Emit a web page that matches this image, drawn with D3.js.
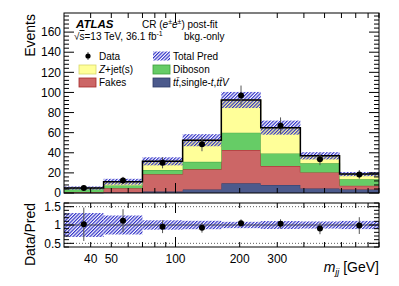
<!DOCTYPE html>
<html><head><meta charset="utf-8">
<script src="https://cdn.jsdelivr.net/npm/d3@7"></script>
<style>
body{margin:0;background:#fff}
text{font-family:"Liberation Sans",Arial,Helvetica,sans-serif;fill:#000}
</style>
</head><body><div id="chart"></div>
<script>
// histogram bin edges in m_jj [GeV]
const edges = [30, 46, 70, 108, 164, 251, 385, 588, 900];

// stacked backgrounds, bottom to top
const ttbar   = [0.2, 0.5, 1.5, 3.5, 9.6, 8.0, 4.5, 3.5];
const fakes   = [0.6, 4.2, 17.1, 20.0, 33.1, 18.8, 16.0, 3.7];
const diboson = [2.7, 2.8, 4.3, 7.5, 17.3, 12.6, 9.0, 6.4];
const zjets   = [1.4, 3.7, 8.6, 21.5, 32.5, 25.6, 7.5, 5.2];
const totUnc  = [1.6, 2.9, 4.0, 6.0, 8.0, 7.0, 3.6, 2.1];

const data = [5, 12.5, 30, 48.5, 97, 67, 33.5, 18.5];

const yTicks = [0, 20, 40, 60, 80, 100, 120, 140, 160];
const xTickLabels = [40, 50, 100, 200, 300];
const rTicks = [0.5, 1, 1.5];

const COLORS = {
    zjets: "#ffff99", zjetsEdge: "#d8d86a",
    dib: "#66cc66", dibEdge: "#3c9e3c",
    fakes: "#cc6666", fakesEdge: "#a52a2a",
    tt: "#4c5a8c", ttEdge: "#2f3a66",
    hatch: "#3030c8"
};

const W = 399, H = 286;
const L = 64, R = 379;
const mainTop = 13, mainBot = 193;
const ratTop = 203, ratBot = 247;

const svg = d3.select("#chart").append("svg")
    .attr("width", W).attr("height", H);

const defs = svg.append("defs");
const pat = defs.append("pattern")
    .attr("id", "hatch").attr("patternUnits", "userSpaceOnUse")
    .attr("width", 2.4).attr("height", 2.4)
    .attr("patternTransform", "rotate(45)");
pat.append("line").attr("x1", 0.6).attr("y1", 0).attr("x2", 0.6).attr("y2", 2.4)
    .attr("stroke", COLORS.hatch).attr("stroke-width", 1.2);

const x = d3.scaleLog().domain([30, 900]).range([L, R]);
const y = d3.scaleLinear().domain([0, 179]).range([mainBot, mainTop]);
const yr = d3.scaleLinear().domain([0.4, 1.6]).range([ratBot, ratTop]);

const bins = d3.range(edges.length - 1);
const total = bins.map(i => ttbar[i] + fakes[i] + diboson[i] + zjets[i]);
const centre = i => Math.sqrt(edges[i] * edges[i + 1]);

// stacked step areas
const layers = [
    {vals: ttbar, fill: COLORS.tt, edge: COLORS.ttEdge},
    {vals: fakes, fill: COLORS.fakes, edge: COLORS.fakesEdge},
    {vals: diboson, fill: COLORS.dib, edge: COLORS.dibEdge},
    {vals: zjets, fill: COLORS.zjets, edge: COLORS.zjetsEdge}
];
let base = bins.map(() => 0);
const stepPts = (lo, hi) => {
    const pts = [];
    bins.forEach(i => {
        pts.push({x: edges[i], y0: lo[i], y1: hi[i]});
        pts.push({x: edges[i + 1], y0: lo[i], y1: hi[i]});
    });
    return pts;
};
const area = d3.area().x(d => x(d.x)).y0(d => y(d.y0)).y1(d => y(d.y1));
const topLine = d3.line().x(d => x(d.x)).y(d => y(d.y1));

const gStack = svg.append("g");
layers.forEach(layer => {
    const top = bins.map(i => base[i] + layer.vals[i]);
    const pts = stepPts(base, top);
    gStack.append("path").attr("d", area(pts)).attr("fill", layer.fill);
    gStack.append("path").attr("d", topLine(pts))
        .attr("fill", "none").attr("stroke", layer.edge).attr("stroke-width", 1);
    base = top;
});

// uncertainty band
svg.append("g").selectAll("rect").data(bins).join("rect")
    .attr("x", i => x(edges[i])).attr("width", i => x(edges[i + 1]) - x(edges[i]))
    .attr("y", i => y(total[i] + totUnc[i]))
    .attr("height", i => y(total[i] - totUnc[i]) - y(total[i] + totUnc[i]))
    .attr("fill", "url(#hatch)");

// total line
svg.append("path")
    .attr("d", topLine(stepPts(bins.map(() => 0), total)))
    .attr("fill", "none").attr("stroke", "#000").attr("stroke-width", 1.5);

// data points
const gData = svg.append("g");
gData.selectAll("line").data(bins).join("line")
    .attr("x1", i => x(centre(i))).attr("x2", i => x(centre(i)))
    .attr("y1", i => y(data[i] + Math.sqrt(data[i])))
    .attr("y2", i => y(Math.max(0, data[i] - Math.sqrt(data[i]))))
    .attr("stroke", "#555").attr("stroke-width", 1);
gData.selectAll("circle").data(bins).join("circle")
    .attr("cx", i => x(centre(i))).attr("cy", i => y(data[i])).attr("r", 3)
    .attr("fill", "#000");

// ---- ratio panel ----
const gRat = svg.append("g");
gRat.selectAll("rect").data(bins).join("rect")
    .attr("x", i => x(edges[i])).attr("width", i => x(edges[i + 1]) - x(edges[i]))
    .attr("y", i => yr(1 + totUnc[i] / total[i]))
    .attr("height", i => yr(1 - totUnc[i] / total[i]) - yr(1 + totUnc[i] / total[i]))
    .attr("fill", "url(#hatch)");
[0.5, 1.5].forEach(v => {
    gRat.append("line").attr("x1", L).attr("x2", R).attr("y1", yr(v)).attr("y2", yr(v))
        .attr("stroke", "#333").attr("stroke-width", 0.8).attr("stroke-dasharray", "1,2");
});
gRat.append("line").attr("x1", L).attr("x2", R).attr("y1", yr(1)).attr("y2", yr(1))
    .attr("stroke", "#333").attr("stroke-width", 0.8);
gRat.selectAll("line.err").data(bins).join("line").attr("class", "err")
    .attr("x1", i => x(centre(i))).attr("x2", i => x(centre(i)))
    .attr("y1", i => yr(Math.min(1.6, (data[i] + Math.sqrt(data[i])) / total[i])))
    .attr("y2", i => yr(Math.max(0.4, (data[i] - Math.sqrt(data[i])) / total[i])))
    .attr("stroke", "#555").attr("stroke-width", 1);
gRat.selectAll("circle").data(bins).join("circle")
    .attr("cx", i => x(centre(i))).attr("cy", i => yr(data[i] / total[i])).attr("r", 3)
    .attr("fill", "#000");

// ---- frames and ticks ----
const frame = (t, b) => svg.append("rect").attr("x", L).attr("y", t)
    .attr("width", R - L).attr("height", b - t)
    .attr("fill", "none").attr("stroke", "#000").attr("stroke-width", 1);
frame(mainTop, mainBot);
frame(ratTop, ratBot);

const gTicks = svg.append("g").attr("stroke", "#000").attr("stroke-width", 1);
const tick = (x1, y1, x2, y2) => gTicks.append("line")
    .attr("x1", x1).attr("y1", y1).attr("x2", x2).attr("y2", y2);

// x ticks: minor at 40..90, 200..900; major at 100
const xMinor = d3.range(4, 10).map(d => d * 10).concat(d3.range(2, 10).map(d => d * 100));
[[mainTop, mainBot], [ratTop, ratBot]].forEach(([t, b]) => {
    xMinor.forEach(v => { tick(x(v), b, x(v), b - 5); tick(x(v), t, x(v), t + 5); });
    tick(x(100), b, x(100), b - 10); tick(x(100), t, x(100), t + 10);
});

// main y ticks
d3.range(0, 180, 4).forEach(v => {
    const len = v % 20 === 0 ? 10 : 5;
    tick(L, y(v), L + len, y(v));
    tick(R, y(v), R - len, y(v));
});
// ratio y ticks
d3.range(0.4, 1.61, 0.1).forEach(v => {
    const major = Math.abs(v * 2 - Math.round(v * 2)) < 1e-6;
    const len = major ? 10 : 5;
    tick(L, yr(v), L + len, yr(v));
    tick(R, yr(v), R - len, yr(v));
});

// tick labels
svg.append("g").selectAll("text").data(yTicks).join("text")
    .attr("x", L - 3).attr("y", d => y(d) + 4.2).attr("text-anchor", "end")
    .attr("font-size", 12).text(d => d);
svg.append("g").selectAll("text").data(rTicks).join("text")
    .attr("x", L - 3).attr("y", d => yr(d) + 4.2).attr("text-anchor", "end")
    .attr("font-size", 12).text(d => d);
svg.append("g").selectAll("text").data(xTickLabels).join("text")
    .attr("x", d => x(d)).attr("y", 262.5).attr("text-anchor", "middle")
    .attr("font-size", 12).text(d => d);

// axis titles
svg.append("text").attr("transform", "translate(35,14) rotate(-90)")
    .attr("text-anchor", "end").attr("font-size", 14).text("Events");
svg.append("text").attr("transform", "translate(35,203) rotate(-90)")
    .attr("text-anchor", "end").attr("font-size", 14).text("Data/Pred");
const xt = svg.append("text").attr("x", R).attr("y", 272)
    .attr("text-anchor", "end").attr("font-size", 14);
xt.append("tspan").attr("font-style", "italic").text("m");
xt.append("tspan").attr("font-style", "italic").attr("font-size", 9).attr("dy", 3).text("jj");
xt.append("tspan").attr("dy", -3).text(" [GeV]");

// ---- labels ----
svg.append("text").attr("x", 76).attr("y", 28).attr("font-size", 11.5)
    .attr("font-weight", "bold").attr("font-style", "italic").text("ATLAS");
const cr = svg.append("text").attr("x", 142).attr("y", 28).attr("font-size", 10);
cr.append("tspan").text("CR (");
cr.append("tspan").attr("font-style", "italic").text("e");
cr.append("tspan").attr("font-size", 7).attr("dy", -4).text("±");
cr.append("tspan").attr("font-style", "italic").attr("dy", 4).text("e");
cr.append("tspan").attr("font-size", 7).attr("dy", -4).text("±");
cr.append("tspan").attr("dy", 4).text(") post-fit");

const lumi = svg.append("text").attr("x", 74).attr("y", 40).attr("font-size", 10);
lumi.append("tspan").text("√");
lumi.append("tspan").attr("text-decoration", "overline").text("s");
lumi.append("tspan").text("=13 TeV, 36.1 fb");
lumi.append("tspan").attr("font-size", 7).attr("dy", -4).text("-1");
svg.append("text").attr("x", 184).attr("y", 40).attr("font-size", 10).text("bkg.-only");

// legend
const rows = [56, 69.5, 82.5];
const colX = [79, 153];
const gLeg = svg.append("g");
gLeg.append("line").attr("x1", 88).attr("x2", 88).attr("y1", rows[0] - 4).attr("y2", rows[0] + 4)
    .attr("stroke", "#555");
gLeg.append("circle").attr("cx", 88).attr("cy", rows[0]).attr("r", 2.6).attr("fill", "#000");
const legBox = (cx, cy, fill, edge) => gLeg.append("rect")
    .attr("x", cx).attr("y", cy - 4.5).attr("width", 17).attr("height", 9)
    .attr("fill", fill).attr("stroke", edge).attr("stroke-width", 0.8);
legBox(colX[1], rows[0], "url(#hatch)", "none");
legBox(colX[0], rows[1], COLORS.zjets, COLORS.zjetsEdge);
legBox(colX[1], rows[1], COLORS.dib, COLORS.dibEdge);
legBox(colX[0], rows[2], COLORS.fakes, COLORS.fakesEdge);
legBox(colX[1], rows[2], COLORS.tt, COLORS.ttEdge);

const legText = (tx, ty) => gLeg.append("text").attr("x", tx).attr("y", ty + 3.7).attr("font-size", 10);
legText(99, rows[0]).text("Data");
legText(173, rows[0]).text("Total Pred");
const zt = legText(99, rows[1]);
zt.append("tspan").attr("font-style", "italic").text("Z");
zt.append("tspan").text("+jet(s)");
legText(173, rows[1]).text("Diboson");
legText(99, rows[2]).text("Fakes");
const tt = legText(173, rows[2]);
tt.append("tspan").attr("font-style", "italic").text("tt\u0304");
tt.append("tspan").text(",single-");
tt.append("tspan").attr("font-style", "italic").text("t");
tt.append("tspan").text(",");
tt.append("tspan").attr("font-style", "italic").text("tt\u0304V");
</script>
</body></html>
